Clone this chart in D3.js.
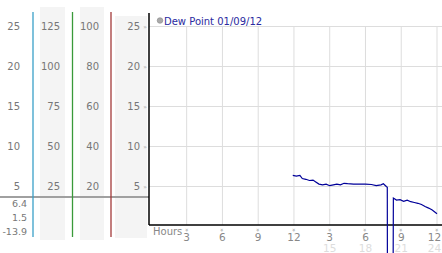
<!DOCTYPE html>
<html>
<head>
<meta charset="utf-8">
<script src="https://cdn.jsdelivr.net/npm/d3@7"></script>
<style>
body { margin: 0; background: #fff; }
svg { display: block; font-family: "DejaVu Sans", Verdana, sans-serif; }
</style>
</head>
<body>
<div id="chart"></div>
<script>
// y-axis ticks for each of the left scale columns
var celsiusTicks = [5, 10, 15, 20, 25];
var col2Ticks = [25, 50, 75, 100, 125];
var col3Ticks = [20, 40, 60, 80, 100];
var summaryLabels = ["6.4", "1.5", "-13.9"];

// x-axis
var hourTicks = [3, 6, 9, 12, 15, 18, 21, 24];
var hourLabels = ["3", "6", "9", "12", "3", "6", "9", "12"];
var hourLabels2 = ["", "", "", "", "15", "18", "21", "24"];

// dew point series
var dewHours = [11.9, 12.2, 12.5, 12.7, 13.0, 13.3, 13.6, 13.8, 14.1, 14.4, 14.7, 15.0, 15.3, 15.6, 15.9,
	16.2, 16.5, 17.0, 17.5, 18.0, 18.5, 18.9, 19.3, 19.5, 19.75, 19.83, 19.85, 20.3, 20.34, 20.6, 20.9,
	21.2, 21.5, 21.8, 22.1, 22.4, 22.7, 23.0, 23.3, 23.6, 24.0];
var dewValues = [6.4, 6.3, 6.4, 6.0, 5.9, 5.75, 5.8, 5.6, 5.3, 5.2, 5.3, 5.1, 5.2, 5.3, 5.2,
	5.4, 5.35, 5.3, 5.3, 5.3, 5.25, 5.1, 5.2, 5.35, 5.0, 4.9, -13.9, -13.9, 3.55, 3.3, 3.35,
	3.15, 3.3, 3.1, 3.0, 2.9, 2.75, 2.5, 2.3, 2.05, 1.6];

var W = 442, H = 253;
var plotL = 149, plotR = 442, axisY = 225;

var svg = d3.select("#chart").append("svg").attr("width", W).attr("height", H);

var y = d3.scaleLinear().domain([0, 25]).range([226.5, 26.5]);
var y2 = d3.scaleLinear().domain([0, 125]).range([226.5, 26.5]);
var y3 = d3.scaleLinear().domain([0, 100]).range([226.5, 26.5]);
var x = d3.scaleLinear().domain([0, 24]).range([150.9, 437]);

// column backgrounds
svg.append("rect").attr("x", 40).attr("y", 7).attr("width", 25).attr("height", 233).attr("fill", "#f4f4f4");
svg.append("rect").attr("x", 80).attr("y", 7).attr("width", 24).attr("height", 233).attr("fill", "#f4f4f4");
svg.append("rect").attr("x", 115).attr("y", 16).attr("width", 32).attr("height", 222).attr("fill", "#f4f4f4");

// separator
svg.append("line").attr("x1", 0).attr("x2", plotL).attr("y1", 197).attr("y2", 197)
	.attr("stroke", "#a0a0a0").attr("stroke-width", 2);

// coloured scale lines
[[33, "#3aa0c8"], [72.5, "#3a9a3a"], [111, "#a33a3a"]].forEach(function (c) {
	svg.append("line").attr("x1", c[0]).attr("x2", c[0]).attr("y1", 12).attr("y2", 237)
		.attr("stroke", c[1]).attr("stroke-width", 1.3);
});

var labelStyle = function (sel) {
	return sel.attr("font-size", 10).attr("fill", "#777").attr("text-anchor", "end").attr("dy", "0.35em");
};

svg.append("g").selectAll("text").data(celsiusTicks).join("text")
	.attr("x", 20).attr("y", function (d) { return y(d); }).text(function (d) { return d; })
	.call(labelStyle);
svg.append("g").selectAll("text").data(col2Ticks).join("text")
	.attr("x", 60).attr("y", function (d) { return y2(d); }).text(function (d) { return d; })
	.call(labelStyle);
svg.append("g").selectAll("text").data(col3Ticks).join("text")
	.attr("x", 99).attr("y", function (d) { return y3(d); }).text(function (d) { return d; })
	.call(labelStyle);
svg.append("g").selectAll("text").data(celsiusTicks).join("text")
	.attr("x", 140).attr("y", function (d) { return y(d); }).text(function (d) { return d; })
	.call(labelStyle);

svg.append("g").selectAll("text").data(summaryLabels).join("text")
	.attr("x", 27).attr("y", function (d, i) { return 207 + i * 14; }).text(function (d) { return d; })
	.attr("font-size", 9.5).attr("fill", "#777").attr("text-anchor", "end");

// gridlines
svg.append("g").selectAll("line").data(celsiusTicks).join("line")
	.attr("x1", plotL).attr("x2", plotR)
	.attr("y1", function (d) { return y(d); }).attr("y2", function (d) { return y(d); })
	.attr("stroke", "#ddd");
svg.append("g").selectAll("line").data(hourTicks).join("line")
	.attr("x1", function (d) { return x(d); }).attr("x2", function (d) { return x(d); })
	.attr("y1", y(25)).attr("y2", axisY)
	.attr("stroke", "#ddd");

// little tick glyphs
svg.append("g").selectAll("text").data(celsiusTicks).join("text")
	.attr("x", 145).attr("y", function (d) { return y(d); }).attr("dy", "0.35em")
	.attr("text-anchor", "middle").attr("font-size", 6).attr("fill", "#999").text("»");
svg.append("g").selectAll("text").data(hourTicks).join("text")
	.attr("transform", function (d) { return "translate(" + x(d) + ",230) rotate(90)"; })
	.attr("dy", "0.35em").attr("text-anchor", "middle").attr("font-size", 6).attr("fill", "#999").text("»");

// axes
svg.append("line").attr("x1", plotL).attr("x2", plotL).attr("y1", 13).attr("y2", axisY)
	.attr("stroke", "#000").attr("stroke-width", 1.5);
svg.append("line").attr("x1", plotL).attr("x2", plotR).attr("y1", axisY).attr("y2", axisY)
	.attr("stroke", "#000").attr("stroke-width", 1.5);

// x labels (last one kept inside the frame)
var tickX = function (d) { return d === 24 ? Math.min(x(d), W - 7.5) : x(d); };
svg.append("text").attr("x", 153).attr("y", 235).attr("font-size", 10).attr("fill", "#888").text("Hours");
svg.append("g").selectAll("text").data(hourTicks).join("text")
	.attr("x", tickX).attr("y", 241)
	.attr("text-anchor", "middle").attr("font-size", 10.5).attr("fill", "#888")
	.text(function (d, i) { return hourLabels[i]; });
svg.append("g").selectAll("text").data(hourTicks).join("text")
	.attr("x", tickX).attr("y", 252)
	.attr("text-anchor", "middle").attr("font-size", 10.5).attr("fill", "#ddd")
	.text(function (d, i) { return hourLabels2[i]; });

// series
var pts = dewHours.map(function (h, i) { return [h, dewValues[i]]; });
svg.append("path").datum(pts)
	.attr("d", d3.line().x(function (d) { return x(d[0]); }).y(function (d) { return y(d[1]); }))
	.attr("fill", "none").attr("stroke", "#000099").attr("stroke-width", 1.2);

// legend
svg.append("circle").attr("cx", 160).attr("cy", 20.5).attr("r", 2.8)
	.attr("fill", "#aaa").attr("stroke", "#888").attr("stroke-width", 0.6);
svg.append("text").attr("x", 164).attr("y", 24.5).attr("font-size", 10).attr("fill", "#2a2aa0")
	.text("Dew Point 01/09/12");
</script>
</body>
</html>
